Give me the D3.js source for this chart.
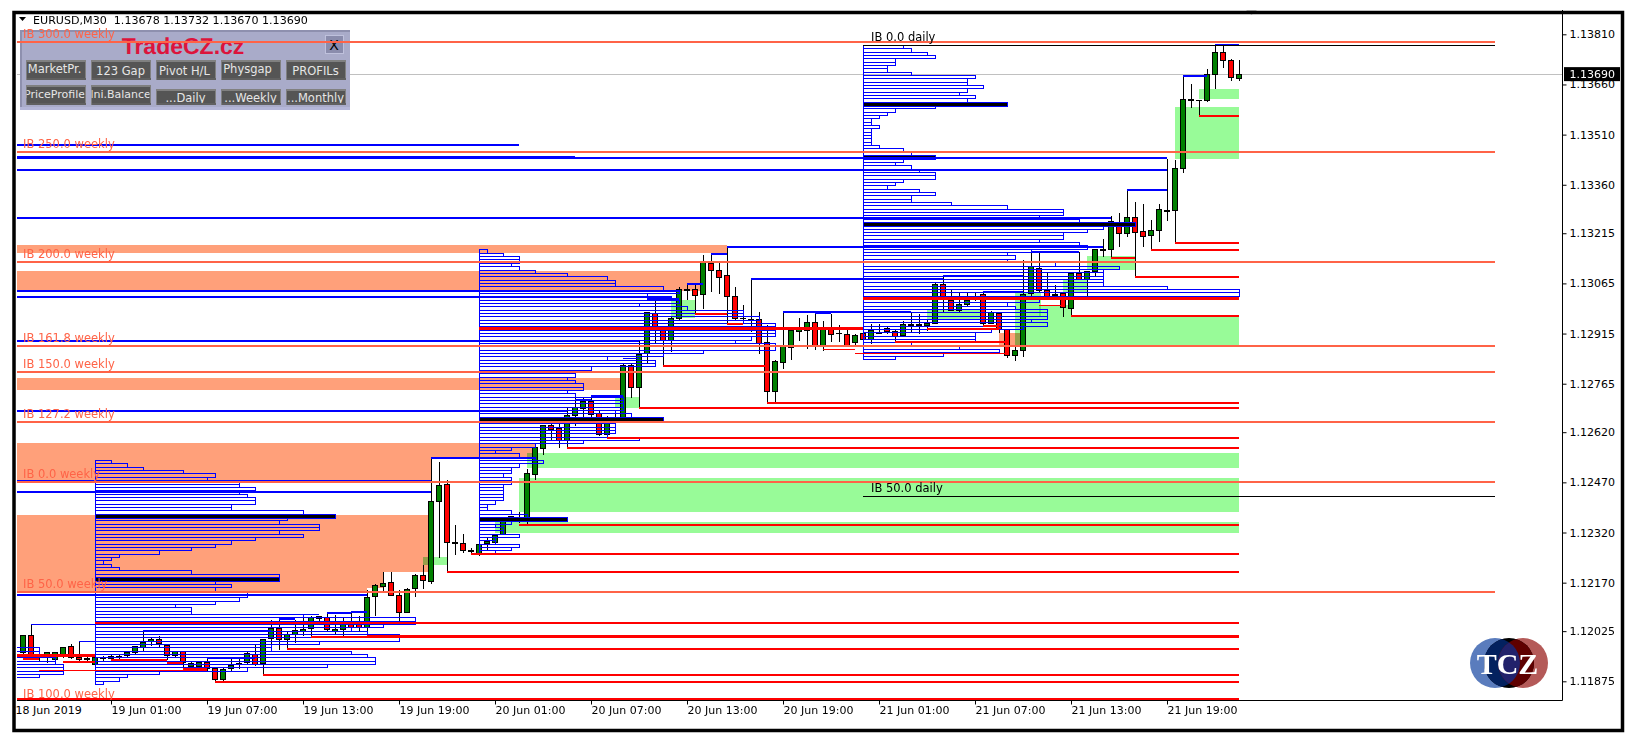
<!DOCTYPE html>
<html><head><meta charset="utf-8">
<style>html,body{margin:0;padding:0;background:#fff}svg{display:block}text{font-family:"DejaVu Sans",sans-serif}</style>
<script src="https://cdn.jsdelivr.net/npm/d3@7"></script></head><body><svg id="c" width="1636" height="749"></svg>
<script>
// All prices are in points (price x 100000); bar 0 = 18 Jun 2019 19:00, one bar = 30 minutes
const opens=[111961,112011,111949,111949,111939,111949,111978,111947,111942,111924,
111943,111942,111947,111951,111960,111977,111994,112001,111983,111951,
111963,111918,111918,111930,111914,111879,111912,111924,111930,111955,
111927,112004,112034,111999,112016,112024,112033,112068,112065,112024,
112030,112051,112045,112037,112128,112160,112169,112131,112082,112152,
112191,112172,112412,112464,112289,112287,112266,112258,112286,112290,
112315,112360,112365,112360,112493,112572,112641,112631,112595,112670,
112692,112712,112675,112613,112662,112658,112819,112753,112855,112975,
112929,112895,112960,113045,113046,113032,113126,113104,113089,113026,
112961,112957,112957,112887,112743,112827,112873,112920,112925,112948,
112878,112928,112916,112913,112888,112915,112898,112916,112930,112920,
112910,112941,112942,112940,112946,113061,113015,112983,113003,113018,
113031,112945,112975,112928,112850,112865,113035,113111,113045,113032,
113035,112991,113096,113078,113100,113164,113165,113246,113213,113261,
113220,113208,113222,113283,113284,113410,113615,113613,113611,113690,
113756,113732,113678];
const highs=[112011,112042,111952,111962,111962,111975,111987,111992,111957,111949,
111952,111957,111954,111962,111981,112025,112007,112009,111987,111967,
111965,111937,111937,111945,111917,111915,111942,111945,111962,111984,
112002,112057,112059,112022,112057,112072,112070,112070,112082,112072,
112067,112082,112069,112149,112167,112201,112201,112147,112154,112195,
112222,112542,112531,112476,112341,112317,112275,112286,112303,112313,
112358,112370,112380,112510,112575,112643,112660,112655,112695,112730,
112725,112728,112685,112667,112685,112825,112825,112897,112980,113015,
112935,112965,113053,113060,113060,113150,113153,113125,113173,113053,
113000,113077,112978,112940,112835,112978,112930,112963,112970,112977,
112953,112973,112941,112928,112915,112928,112945,112945,112935,112928,
112953,112975,112973,112958,113068,113091,113045,113038,113038,113038,
113038,112983,112978,112928,112878,113135,113165,113158,113095,113061,
113038,113098,113158,113103,113168,113198,113267,113276,113343,113308,
113303,113255,113301,113438,113435,113685,113661,113615,113706,113779,
113778,113735,113732];
const lows=[111957,111942,111937,111929,111935,111945,111941,111937,111935,111922,
111937,111939,111942,111949,111957,111964,111980,111977,111939,111949,
111912,111912,111912,111907,111872,111875,111907,111912,111925,111920,
111892,111977,111969,111969,111989,112009,112007,112047,112023,112017,
112007,112032,112022,112007,112070,112145,112131,112049,112079,112127,
112151,112166,112245,112202,112252,112259,112255,112250,112268,112283,
112313,112348,112348,112345,112478,112553,112595,112572,112570,112640,
112665,112665,112610,112600,112653,112653,112722,112690,112825,112885,
112817,112860,112955,113015,112973,112988,113040,113033,112942,112957,
112945,112920,112853,112705,112707,112810,112835,112892,112868,112865,
112863,112891,112891,112875,112878,112895,112885,112913,112913,112888,
112905,112918,112913,112923,112943,112978,112981,112978,112995,113013,
112935,112943,112918,112841,112833,112845,113028,113038,113021,113021,
112965,112968,113075,113018,113088,113143,113143,113173,113203,113085,
113175,113163,113188,113251,113185,113395,113591,113565,113608,113645,
113710,113671,113670];
const closes=[112011,111952,111945,111960,111960,111975,111945,111939,111939,111945,
111945,111948,111949,111960,111978,111990,112001,111987,111951,111963,
111932,111927,111930,111914,111879,111911,111922,111927,111957,111925,
112000,112034,111999,112016,112026,112029,112065,112063,112030,112030,
112051,112037,112037,112127,112161,112167,112133,112082,112151,112191,
112175,112413,112461,112290,112287,112267,112263,112283,112293,112311,
112353,112368,112361,112495,112573,112641,112629,112595,112670,112695,
112712,112672,112613,112663,112657,112819,112755,112853,112977,112930,
112895,112960,113047,113047,113028,113127,113103,113082,113025,112960,
112959,112955,112885,112743,112831,112875,112923,112927,112948,112880,
112928,112913,112914,112878,112909,112898,112923,112917,112920,112906,
112941,112939,112941,112946,113061,113018,112983,113001,113015,113027,
112945,112978,112928,112850,112865,113031,113116,113045,113025,113030,
112993,113096,113078,113100,113165,113166,113249,113215,113261,113217,
113206,113222,113285,113281,113408,113616,113613,113611,113691,113756,
113732,113680,113690];
const firstBar=1;
// price-profile row counts, top to bottom
const profile0={top:111975,bar:-1,poc:[],rows:[4,4,6,6,6,7,7,7,4]};
const profile1={top:112535,bar:10,poc:[16,35],rows:[2,4,6,11,15,14,18,18,20,18,19,20,20,17,17,26,30,24,23,28,28,23,26,20,17,15,12,8,3,2,1,2,3,12,23,23,15,17,15,19,19,18,15,10,12,12,26,40,40,36,32,34,38,38,28,22,22,32,34,35,35,29,19,8,4,3,1]};
const profile2={top:113165,bar:58,poc:[50,80],rows:[1,3,5,5,4,5,7,11,16,17,17,23,25,21,24,25,20,26,33,33,35,33,37,37,37,37,34,32,37,37,28,23,16,22,22,14,12,12,11,12,13,13,11,12,18,18,18,18,17,19,23,17,17,17,17,16,20,13,7,4,2,5,7,8,5,4,4,3,4,4,3,3,3,3,3,2,1,1,4,6,11,4,2,3,3,5,2,2,5,4,2]};
const profile3={top:113777,bar:106,poc:[17,33,53],rows:[5,6,8,9,4,4,3,3,6,14,13,13,15,13,12,14,13,18,9,4,3,2,1,1,2,1,1,1,1,1,2,5,6,9,5,4,6,7,9,9,5,4,3,7,9,6,6,11,18,25,25,22,27,34,30,28,25,25,22,27,28,21,18,19,18,24,32,30,30,30,30,30,38,47,47,22,22,18,19,23,23,23,21,23,20,16,14,14,14,6,12,17,10,4]};
// zones: [upper price, lower price, from bar, to bar]
const salmonZones=[[112588,112544,-1,65],[112544,112475,-1,52],[112373,112203,-1,51.9],[112203,112155,-1,46],[112155,112143,-1,44],[113180,113157,-1,89],[113103,113043,-1,85.6],[112783,112747,-1,75.9],[112917,112878,123,125.75]];
const greenZones=[[112248,112224,51,54],[112352,112318,60,153],[112484,112382,63,153],[112559,112514,64,153],[112726,112693,75,78],[113016,112962,82,85],[112986,112956,114,121],[113040,112968,125,128.2],[113001,112968,128,132],[112968,112878,125,153],[113079,113040,131,134],[113148,113106,134,140],[113593,113438,145,153],[113647,113617,148,153]];
// naked levels: [price, from bar, to bar]
const blueThin=[[111994,8,16],[112027,16,32],[112045,2,32],[112062,33,35],[112075,36,38],[112080,39,42],[112083,42,44],[111945,24,30],[112718,70,72],[112840,76,78],[113063,84,86],[113153,87,89],[113019,79,83],[112975,100,102]];
const blueThick=[[113479,-1,63],[113444,-1,70],[113439,-1,144],[113405,-1,144],[113262,-1,137],[113041,-1,83],[113023,-1,82],[112893,-1,78],[112682,-1,69],[112544,52,65],[112473,-1,52],[112440,-1,52],[112132,-1,44],[112728,72,76],[113175,89,136],[113078,92,116],[112980,96,112],[113685,146,149],[113779,150,153],[113343,139,144],[113160,127,133],[113088,116,126],[113038,121,126]];
const redThin=[[111942,1,3],[111932,6,10],[111908,3,24],[111939,12,19],[111930,19,21],[111912,21,24],[112973,85,89],[112943,89,91],[112929,114,123],[112938,121,123],[112868,101,105],[112855,105,124],[112890,116,124],[112999,128,131]];
const redThick=[[112202,54,153],[112255,57,153],[112050,10,153],[112007,37,153],[111971,34,153],[111894,31,153],[111873,25,153],[111822,-1,153],[111952,-1,10],[112929,58,106],[112817,81,94],[112707,94,153],[112692,78,153],[112602,74,153],[112572,69,153],[112343,63,153],[113565,148,153],[113185,145,153],[113164,142,153],[113085,140,153],[113142,137,140],[112968,132,153],[113020,106,153],[112890,110,116]];
const redHeavy=[[112009,44,153],[113020,106,153],[112929,58,106],[111952,-1,10]];
const weeklyNames=["IB 300.0 weekly","IB 250.0 weekly","IB 200.0 weekly","IB 161.8 weekly","IB 150.0 weekly","IB 127.2 weekly","IB 0.0 weekly","IB 50.0 weekly","IB 100.0 weekly"];
const weeklyPrices=[113787,113458,113130,112879,112801,112651,112472,112142,111814];
const dailyNames=["IB 0.0 daily","IB 50.0 daily"];
const dailyPrices=[113777,112428];
const yTickValues=[113810,113660,113510,113360,113215,113065,112915,112765,112620,112470,112320,112170,112025,111875];
const xTickBars=[0,12,24,36,48,60,72,84,96,108,120,132,144];
const xTickLabels=["18 Jun 2019","19 Jun 01:00","19 Jun 07:00","19 Jun 13:00","19 Jun 19:00","20 Jun 01:00","20 Jun 07:00","20 Jun 13:00","20 Jun 19:00","21 Jun 01:00","21 Jun 07:00","21 Jun 13:00","21 Jun 19:00"];
const lastPrice=113690;
const headerText="EURUSD,M30  1.13678 1.13732 1.13670 1.13690";
const buttonRow1=["MarketPr.","123 Gap","Pivot H/L","Physgap","PROFILs"];
const buttonRow2=["PriceProfile","Ini.Balance","...Daily","...Weekly","...Monthly"];

const svg=d3.select("#c");
const x=d3.scaleLinear().domain([0,153]).range([15,1239]);
const y=d3.scaleLinear().domain([111875,113810]).range([681.3,34.3]);
const BLUE="#0000ff",RED="#ff0000",TOMATO="#ff6347";
const defs=svg.append("defs");
defs.append("clipPath").attr("id","plot").append("rect").attr("x",17).attr("y",15).attr("width",1545).attr("height",685);
const plot=svg.append("g").attr("clip-path","url(#plot)").attr("shape-rendering","crispEdges");

function zones(data,color,blend){
  const g=plot.append("g");
  g.selectAll("rect").data(data).join("rect")
   .attr("x",d=>x(d[2])).attr("width",d=>x(d[3])-x(d[2]))
   .attr("y",d=>y(d[0])).attr("height",d=>y(d[1])-y(d[0])).attr("fill",color)
   .style("mix-blend-mode",blend);
}
zones(salmonZones,"#ffa07a","normal");
zones(greenZones,"#98fb98","multiply");

// last price line
plot.append("line").attr("x1",17).attr("x2",1562).attr("y1",y(lastPrice)).attr("y2",y(lastPrice)).attr("stroke","#c0c0c0");

// control panel
const panel=plot.append("g").attr("transform","translate(20,30)");
panel.append("rect").attr("width",330).attr("height",80).attr("fill","#a9abc9");
panel.append("rect").attr("width",330).attr("height",2).attr("fill","#8e90ae");
panel.append("rect").attr("width",2).attr("height",80).attr("fill","#8e90ae");
panel.append("rect").attr("y",77).attr("width",330).attr("height",3).attr("fill","#b4b6d8");
panel.append("text").text("TradeCZ.cz").attr("x",163).attr("y",24).attr("text-anchor","middle")
  .style("font-family","'Liberation Sans'").style("font-weight","bold").style("font-size","23px").attr("fill","#dc143c").attr("text-rendering","geometricPrecision");
panel.append("rect").attr("x",305).attr("y",5).attr("width",18).attr("height",18).attr("fill","#8a8cac").attr("stroke","#bfc1dc");
panel.append("text").text("X").attr("x",314).attr("y",20).attr("text-anchor","middle").style("font-size","14px").attr("fill","#000");
function button(row,i,label,top,h,dx,dy,fs){
  const bx=5.5+65*i;
  const g=panel.append("g");
  const id="b"+row+"_"+i;
  defs.append("clipPath").attr("id",id).append("rect").attr("x",bx+1).attr("y",top+2).attr("width",58).attr("height",h-4);
  g.append("rect").attr("x",bx).attr("y",top).attr("width",60).attr("height",h).attr("fill","#808080");
  g.append("rect").attr("x",bx+1).attr("y",top+2).attr("width",58).attr("height",h-4).attr("fill","#555555");
  g.append("rect").attr("x",bx+1).attr("y",top+h-2).attr("width",59).attr("height",2).attr("fill","#606060");
  g.append("text").text(label).attr("clip-path","url(#"+id+")").attr("x",bx+30+dx).attr("y",top+dy).attr("text-anchor","middle")
    .style("font-size",fs+"px").attr("fill","#e6e6e6");
}
buttonRow1.forEach((t,i)=>button(1,i,t,30,20,[-1,0,-1,-3,0][i],[13,15,15,13,15][i],11.5));
buttonRow2.forEach((t,i)=>button(2,i,t,i<2?55:59,i<2?20:16,[-1,0,0,0,0][i],13,i<2?11:11.5));

// candles
const bars=opens.map((o,i)=>({i:i+firstBar,o,h:highs[i],l:lows[i],c:closes[i]}));
const cg=plot.append("g");
cg.selectAll("line.w").data(bars).join("line").attr("class","w")
  .attr("x1",d=>x(d.i)).attr("x2",d=>x(d.i)).attr("y1",d=>y(d.h)).attr("y2",d=>y(d.l)).attr("stroke","#000");
cg.selectAll("rect.b").data(bars).join("rect").attr("class","b")
  .attr("x",d=>x(d.i)-2.5).attr("width",5)
  .attr("y",d=>y(Math.max(d.o,d.c))).attr("height",d=>Math.max(0.5,Math.abs(y(d.o)-y(d.c))))
  .attr("fill",d=>d.c>=d.o?"#008000":"#ff0000").attr("stroke","#000");

// profiles
const rowStep=10;
function profile(p){
  const g=plot.append("g");
  const data=p.rows.map((n,k)=>({n,k}));
  g.selectAll("rect.row").data(data).join("rect").attr("class","row")
    .attr("x",x(p.bar)).attr("width",d=>x(p.bar+d.n)-x(p.bar))
    .attr("y",d=>y(p.top-d.k*rowStep)).attr("height",d=>y(p.top-(d.k+1)*rowStep)-y(p.top-d.k*rowStep))
    .attr("fill","none").attr("stroke",BLUE);
  g.selectAll("rect.poc").data(p.poc).join("rect").attr("class","poc")
    .attr("x",x(p.bar)).attr("width",k=>x(p.bar+p.rows[k])-x(p.bar))
    .attr("y",k=>y(p.top-k*rowStep)).attr("height",4)
    .attr("fill","#000").attr("stroke",BLUE);
}
[profile0,profile1,profile2,profile3].forEach(profile);

function levels(data,color,w){
  plot.append("g").selectAll("line").data(data).join("line")
    .attr("x1",d=>x(d[1])).attr("x2",d=>x(d[2])).attr("y1",d=>y(d[0])).attr("y2",d=>y(d[0]))
    .attr("stroke",color).attr("stroke-width",w);
}
levels(blueThin,BLUE,1.5);
levels(blueThick,BLUE,2);
levels(redThin,RED,1.5);
levels(redThick,RED,2);
levels(redHeavy,RED,3);

// weekly & daily initial-balance lines
const xEnd=1495;
plot.append("g").selectAll("line").data(weeklyPrices).join("line").attr("x1",17).attr("x2",xEnd)
  .attr("y1",d=>y(d)).attr("y2",d=>y(d)).attr("stroke",TOMATO).attr("stroke-width",2);
plot.append("g").selectAll("line").data(dailyPrices).join("line").attr("x1",x(106)).attr("x2",xEnd)
  .attr("y1",d=>y(d)).attr("y2",d=>y(d)).attr("stroke","#000");
plot.append("g").selectAll("text").data(weeklyNames).join("text").text(d=>d)
  .attr("x",23).attr("y",(d,i)=>y(weeklyPrices[i])-4).attr("fill",TOMATO).style("font-size","11.5px");
plot.append("g").selectAll("text").data(dailyNames).join("text").text(d=>d)
  .attr("x",871).attr("y",(d,i)=>y(dailyPrices[i])-4).attr("fill","#000").style("font-size","11.5px");

// logo
const logo=svg.append("g");
defs.append("clipPath").attr("id","cB").append("circle").attr("cx",1495).attr("cy",663).attr("r",25);
defs.append("clipPath").attr("id","cR").append("circle").attr("cx",1523).attr("cy",663).attr("r",25);
logo.append("circle").attr("cx",1495).attr("cy",663).attr("r",25).attr("fill","#5a7cbd");
logo.append("circle").attr("cx",1523).attr("cy",663).attr("r",25).attr("fill","#b45a58");
logo.append("circle").attr("cx",1509).attr("cy",663).attr("r",25).attr("fill","#000");
logo.append("g").attr("clip-path","url(#cB)").append("circle").attr("cx",1509).attr("cy",663).attr("r",25).attr("fill","#03215f");
logo.append("g").attr("clip-path","url(#cR)").append("circle").attr("cx",1509).attr("cy",663).attr("r",25).attr("fill","#5f0000");
logo.append("g").attr("clip-path","url(#cB)").append("g").attr("clip-path","url(#cR)").append("circle").attr("cx",1509).attr("cy",663).attr("r",25).attr("fill","#22226b");
logo.append("text").text("TCZ").attr("x",1507.5).attr("y",674).attr("text-anchor","middle").attr("fill","#fff")
  .style("font-family","'Liberation Serif'").style("font-weight","bold").style("font-size","30px");

// axes
const yAxis=d3.axisRight(y).tickValues(yTickValues).tickFormat(d=>(d/100000).toFixed(5)).tickSize(4).tickSizeOuter(0);
const ya=svg.append("g").attr("transform","translate(1562.5,0)").call(yAxis);
ya.select(".domain").remove();
ya.selectAll("text").attr("x",7).style("font-size","11px").style("font-family","'DejaVu Sans'").attr("fill","#000");
svg.append("line").attr("x1",1562.5).attr("x2",1562.5).attr("y1",10).attr("y2",700.5).attr("stroke","#000");
const xAxis=d3.axisBottom(x).tickValues(xTickBars).tickFormat((d,i)=>xTickLabels[i]).tickSize(4).tickSizeOuter(0);
const xa=svg.append("g").attr("transform","translate(0,700.5)").call(xAxis);
xa.select(".domain").remove();
xa.selectAll("text").attr("text-anchor","start").attr("x",0).attr("y",6).style("font-size","11px").style("font-family","'DejaVu Sans'").attr("fill","#000");
xa.selectAll(".tick").filter((d,i)=>i==0).select("line").remove();
svg.append("line").attr("x1",17).attr("x2",1562.5).attr("y1",700.5).attr("y2",700.5).attr("stroke","#000");

// last price tag
svg.append("rect").attr("x",1564).attr("y",y(lastPrice)-7.3).attr("width",56).attr("height",14).attr("fill","#000");
svg.append("text").text((lastPrice/100000).toFixed(5)).attr("x",1569.5).attr("y",y(lastPrice)+4).attr("fill","#fff").style("font-size","11px");

// header
svg.append("path").attr("d","M19 17h7l-3.5 4z").attr("fill","#000");
svg.append("text").text(headerText).attr("x",33).attr("y",24).attr("fill","#000").style("font-size","11.1px").style("white-space","pre");
svg.append("path").attr("d","M1246 10h11l-5.5 5z").attr("fill","#c0c0c0");

// frame
svg.append("rect").attr("x",14).attr("y",12.5).attr("width",1608.5).attr("height",718).attr("fill","none").attr("stroke","#000").attr("stroke-width",3.5);
</script></body></html>
